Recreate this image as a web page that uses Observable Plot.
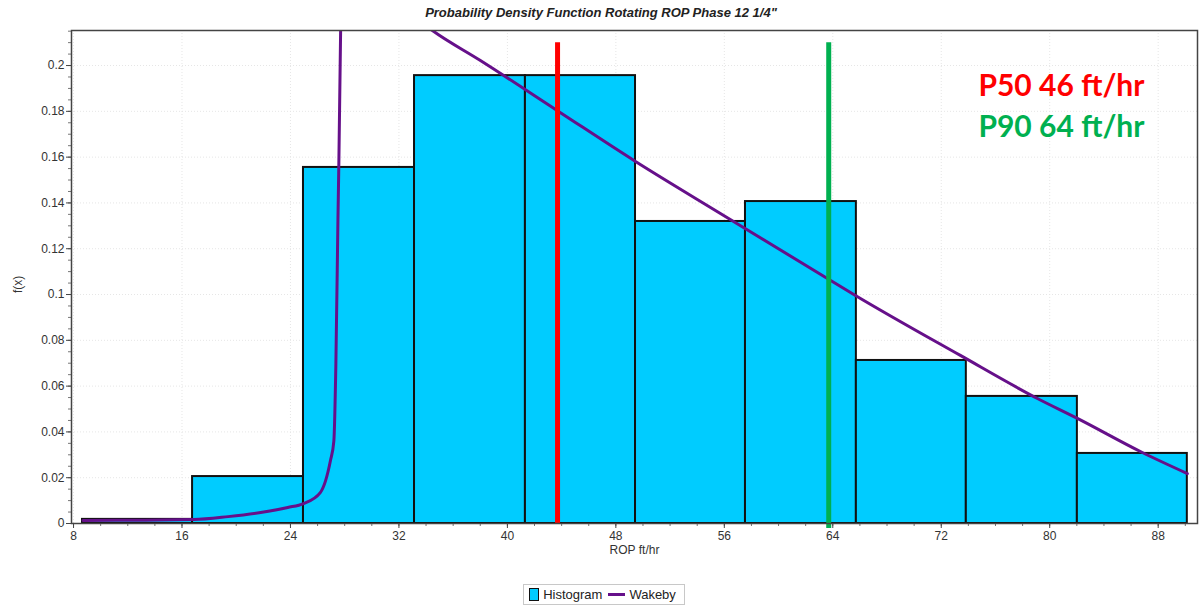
<!DOCTYPE html>
<html>
<head>
<meta charset="utf-8">
<script src="https://cdn.jsdelivr.net/npm/d3@7"></script>
<script src="https://cdn.jsdelivr.net/npm/@observablehq/plot@0.6"></script>
<style>
  body { margin: 0; background: #fff; width: 1202px; font-family: "Liberation Sans", Arial, sans-serif; }
  #title { height: 26px; line-height: 26px; text-align: center; font-size: 13px; font-weight: bold; font-style: italic; color: #222; }
  #legend { margin: 18px auto 0; width: fit-content; border: 1px solid #c8c8c8; padding: 2px 8px 2px 5px; font-size: 13px; color: #222; display: flex; align-items: center; gap: 4px; transform: translateX(3px); }
  .sw { display: inline-block; width: 8px; height: 11px; background: #00ccff; border: 1.5px solid #111; }
  .ln { display: inline-block; width: 17px; height: 3px; background: #66108a; margin-left: 2px; }
  #chart svg { display: block; }
</style>
</head>
<body>
<div id="title">Probability Density Function Rotating ROP Phase 12 1/4"</div>
<div id="chart"></div>
<div id="legend"><span class="sw"></span><span>Histogram</span><span class="ln"></span><span>Wakeby</span></div>
<script>
// ---- data ----
const binEdges = [8.66, 16.78, 24.96, 33.15, 41.33, 49.45, 57.56, 65.74, 73.85, 82.04, 90.15];
const binDensity = [0.0018, 0.0205, 0.1555, 0.1956, 0.1956, 0.1319, 0.1406, 0.0712, 0.0555, 0.0306];

const wakebyLeftX = [8.7, 11.5, 16.85, 19.4, 21.8, 23.8, 24.96, 26.2, 26.95, 27.2, 27.35, 27.5, 27.7, 27.75];
const wakebyLeftY = [0.0013, 0.0014, 0.0017, 0.003, 0.0048, 0.007, 0.0087, 0.0135, 0.0275, 0.036, 0.07, 0.132, 0.2153, 0.25];
const wakebyRightX = [33.0, 34.47, 38.01, 43.69, 49.45, 55.71, 63.60, 65.67, 73.41, 79.09, 82.04, 86.83, 90.15];
const wakebyRightY = [0.222, 0.2153, 0.2022, 0.1803, 0.1581, 0.1354, 0.1070, 0.0996, 0.0734, 0.0546, 0.0459, 0.0310, 0.0218];

const pLines = [
  {name: "P50", x: 43.7, y1: 0, y2: 0.21, color: "#ff0000"},
  {name: "P90", x: 63.7, y1: -0.0022, y2: 0.21, color: "#00b050"}
];
const pLabels = [
  {text: "P50 46 ft/hr", x: 74.74, y: 0.1908, color: "#ff0000"},
  {text: "P90 64 ft/hr", x: 74.74, y: 0.1729, color: "#00b050"}
];

const xMajor = [8, 16, 24, 32, 40, 48, 56, 64, 72, 80, 88];
const xMinor = d3.range(8, 91, 2);
const yMajor = [0, 0.02, 0.04, 0.06, 0.08, 0.1, 0.12, 0.14, 0.16, 0.18, 0.2];
const yMinor = d3.range(0, 0.2151, 0.005);

// ---- tables built from arrays ----
const bins = binDensity.map((d, i) => ({x1: binEdges[i], x2: binEdges[i + 1], y: d}));
const wakebyLeft = wakebyLeftX.map((x, i) => ({x, y: wakebyLeftY[i]}));
const wakebyRight = wakebyRightX.map((x, i) => ({x, y: wakebyRightY[i]}));

const chart = Plot.plot({
  width: 1202,
  height: 540,
  marginTop: 4,
  marginBottom: 43,
  marginLeft: 71,
  marginRight: 5,
  style: {fontFamily: "'Liberation Sans', Arial, sans-serif", fontSize: "12px", color: "#333", background: "#fff"},
  x: {domain: [7.85, 90.9]},
  y: {domain: [0, 0.2153]},
  marks: [
    Plot.gridX(xMajor, {stroke: "#e6e6e6", strokeOpacity: 1, strokeDasharray: "1,2"}),
    Plot.gridY(yMajor, {stroke: "#e6e6e6", strokeOpacity: 1, strokeDasharray: "1,2"}),
    Plot.rectY(bins, {x1: "x1", x2: "x2", y: "y", fill: "#00ccff", stroke: "#111", strokeWidth: 2}),
    Plot.line(wakebyLeft, {x: "x", y: "y", stroke: "#66108a", strokeWidth: 3, curve: "monotone-x", clip: true}),
    Plot.line(wakebyRight, {x: "x", y: "y", stroke: "#66108a", strokeWidth: 3, curve: "monotone-x", clip: true}),
    Plot.ruleX(pLines, {x: "x", y1: "y1", y2: "y2", stroke: "color", strokeWidth: 5, clip: false}),
    Plot.text(pLabels, {x: "x", y: "y", text: "text", fill: "color", textAnchor: "start", lineAnchor: "middle", fontSize: 30, fontWeight: "bold", fontFamily: "Lato, 'Open Sans', sans-serif"}),
    Plot.axisX(xMinor, {tickSize: 3, text: null, stroke: "#777"}),
    Plot.axisX(xMajor, {tickSize: 5, tickPadding: 3, stroke: "#444", label: "ROP ft/hr", labelAnchor: "center", labelArrow: "none", labelOffset: 30, fill: "#333"}),
    Plot.axisY(yMinor, {tickSize: 3, text: null, stroke: "#777"}),
    Plot.axisY(yMajor, {tickSize: 5, tickPadding: 2, stroke: "#444", label: null, tickFormat: d => String(+d.toFixed(2)), fill: "#333"}),
    Plot.text(["f(x)"], {frameAnchor: "left", dx: -53, dy: 16, rotate: -90, fill: "#333", fontSize: 12}),
    Plot.frame({stroke: "#444", strokeWidth: 1.5})
  ]
});
document.getElementById("chart").appendChild(chart);
</script>
</body>
</html>
